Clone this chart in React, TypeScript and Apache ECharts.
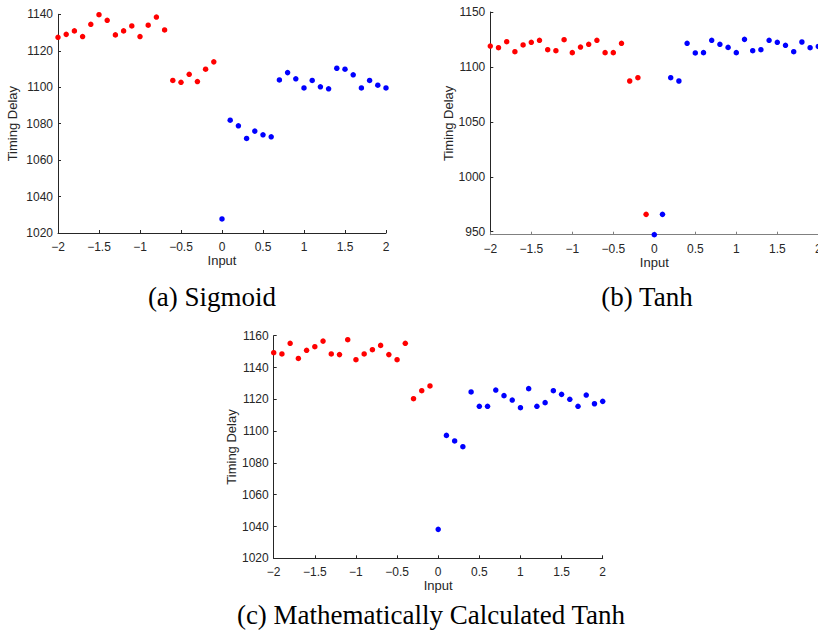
import React, { useEffect, useRef } from "react";
import * as echarts from "echarts";

const inputsNeg = [-2, -1.9, -1.8, -1.7, -1.6, -1.5, -1.4, -1.3, -1.2, -1.1, -1, -0.9, -0.8, -0.7, -0.6, -0.5, -0.4, -0.3, -0.2, -0.1];
const inputsPos = [0, 0.1, 0.2, 0.3, 0.4, 0.5, 0.6, 0.7, 0.8, 0.9, 1, 1.1, 1.2, 1.3, 1.4, 1.5, 1.6, 1.7, 1.8, 1.9, 2];

// (a) Sigmoid
const sigmoidNeg = [1127.4, 1129, 1130.9, 1127.8, 1134.5, 1139.8, 1136.7, 1128.7, 1130.9, 1133.6, 1127.8, 1134, 1138.5, 1131.4, 1103.7, 1102.7, 1107.1, 1103.1, 1109.9, 1113.9];
const sigmoidPos = [1027.7, 1081.9, 1078.8, 1071.9, 1075.9, 1073.9, 1072.8, 1104, 1108, 1104.6, 1099.6, 1103.7, 1100.2, 1099.1, 1110.4, 1109.9, 1106.8, 1099.6, 1103.7, 1101.1, 1099.6];

// (b) Tanh
const tanhNeg = [1119, 1117.5, 1123, 1113.9, 1120, 1122.4, 1124.2, 1115.7, 1114.8, 1124.8, 1113, 1118.1, 1120.6, 1124.2, 1113, 1113, 1121.5, 1087.2, 1090.2, 965.8];
const tanhPos = [947.3, 965.8, 1090.2, 1087.2, 1121.5, 1112.7, 1113, 1124.2, 1120.6, 1117.8, 1113, 1125.1, 1114.8, 1115.7, 1124.2, 1122.4, 1119.7, 1113.9, 1122.7, 1117.5, 1118.7];

// (c) Mathematically Calculated Tanh
const mathNeg = [1149.3, 1148.5, 1155.2, 1145.7, 1150.8, 1153.1, 1156.6, 1148.5, 1148.1, 1157.5, 1144.9, 1148.5, 1151.2, 1153.9, 1148.1, 1144.9, 1155.2, 1120.4, 1125.4, 1128.4];
const mathPos = [1038.2, 1097.3, 1093.8, 1090.2, 1124.6, 1115.6, 1115.6, 1125.8, 1122.3, 1119.5, 1114.7, 1126.7, 1115.6, 1117.9, 1125.4, 1123.1, 1120, 1115.6, 1122.7, 1117.2, 1118.7];

const tanhTicks = [950, 1000, 1050, 1100, 1150];
const captions = ["(a) Sigmoid", "(b) Tanh", "(c) Mathematically Calculated Tanh"];

const pairs = (xs: number[], ys: number[]) => xs.map((x, i) => [x, ys[i]]);

const fmtX = (v: number) => {
  const s = String(Math.round(v * 10) / 10);
  return s.replace("-", "\u2212");
};
const fmtY = (v: number) => String(Math.round(v));

const TXT = "#262626";

function xAxis(gridIndex: number, lineColor: string) {
  return {
    type: "value",
    gridIndex,
    min: -2,
    max: 2,
    interval: 0.5,
    name: "Input",
    nameLocation: "middle",
    nameGap: 19,
    nameTextStyle: { color: TXT, fontSize: 13, fontFamily: "Liberation Sans" },
    axisLine: { show: true, onZero: false, lineStyle: { color: lineColor, width: 1 } },
    axisTick: { show: true, inside: true, length: 3, lineStyle: { color: lineColor } },
    axisLabel: { color: TXT, fontSize: 12, fontFamily: "Liberation Sans", margin: 8, formatter: fmtX, showMinLabel: true, showMaxLabel: true, hideOverlap: false },
    splitLine: { show: false },
  };
}

function yAxis(gridIndex: number, min: number, max: number, interval: number | null, nameGap: number, custom?: number[]) {
  const a: any = {
    type: "value",
    gridIndex,
    min,
    max,
    name: "Timing Delay",
    nameLocation: "middle",
    nameGap,
    nameTextStyle: { color: TXT, fontSize: 13, fontFamily: "Liberation Sans" },
    axisLine: { show: true, onZero: false, lineStyle: { color: "#262626", width: 1 } },
    axisTick: { show: true, inside: true, length: 3, lineStyle: { color: "#262626" } },
    axisLabel: { color: TXT, fontSize: 12, fontFamily: "Liberation Sans", margin: 5, formatter: fmtY },
    splitLine: { show: false },
  };
  if (interval !== null) a.interval = interval;
  if (custom) {
    a.axisLabel.customValues = custom;
    a.axisTick.customValues = custom;
  }
  return a;
}

function scatter(idx: number, data: number[][], color: string) {
  return {
    type: "scatter",
    xAxisIndex: idx,
    yAxisIndex: idx,
    data,
    symbol: "circle",
    symbolSize: 5.5,
    itemStyle: { color, opacity: 1 },
    silent: true,
  };
}

export default function App() {
  const ref = useRef<HTMLDivElement>(null);
  useEffect(() => {
    if (!ref.current) return;
    const chart = echarts.init(ref.current, null, { renderer: "svg" });
    chart.setOption({
      animation: false,
      backgroundColor: "#ffffff",
      grid: [
        { left: 58, top: 14.3, width: 328, height: 218.7, outerBoundsMode: "none", containLabel: false },
        { left: 490.3, top: 12, width: 328, height: 222.7, outerBoundsMode: "none", containLabel: false },
        { left: 273.7, top: 335.7, width: 329, height: 222.6, outerBoundsMode: "none", containLabel: false },
      ],
      xAxis: [xAxis(0, "#262626"), xAxis(1, "#808080"), xAxis(2, "#262626")],
      yAxis: [
        yAxis(0, 1020, 1140, 20, 39),
        yAxis(1, 947.3, 1150, null, 35, tanhTicks),
        yAxis(2, 1020, 1160, 20, 35),
      ],
      series: [
        scatter(0, pairs(inputsNeg, sigmoidNeg), "#ff0000"),
        scatter(0, pairs(inputsPos, sigmoidPos), "#0000ff"),
        scatter(1, pairs(inputsNeg, tanhNeg), "#ff0000"),
        scatter(1, pairs(inputsPos, tanhPos), "#0000ff"),
        scatter(2, pairs(inputsNeg, mathNeg), "#ff0000"),
        scatter(2, pairs(inputsPos, mathPos), "#0000ff"),
      ],
      graphic: [
        { type: "text", x: 212, y: 297, style: { text: captions[0], fill: "#000", font: "27px 'Liberation Serif'", textAlign: "center", textVerticalAlign: "middle" } },
        { type: "text", x: 647, y: 297, style: { text: captions[1], fill: "#000", font: "27px 'Liberation Serif'", textAlign: "center", textVerticalAlign: "middle" } },
        { type: "text", x: 431, y: 615, style: { text: captions[2], fill: "#000", font: "27px 'Liberation Serif'", textAlign: "center", textVerticalAlign: "middle" } },
      ],
    });
    return () => chart.dispose();
  }, []);
  return <div ref={ref} style={{ position: "absolute", left: 0, top: 0, width: 818, height: 633 }} />;
}
